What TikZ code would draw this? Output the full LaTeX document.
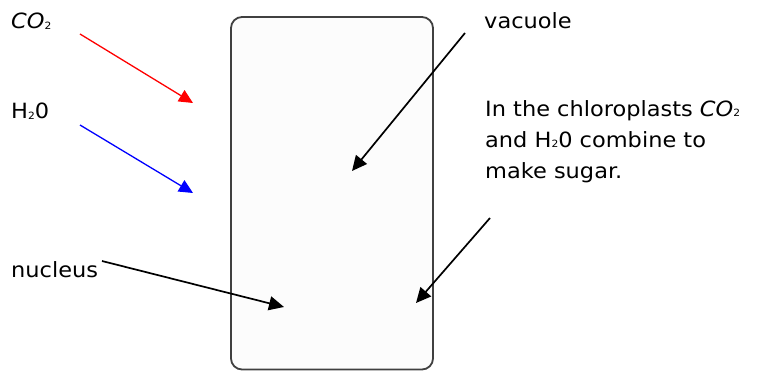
\documentclass[tikz,border=0pt]{standalone}
\usepackage{fontspec}
\setmainfont{DejaVu Sans}[FakeStretch=1.07]
\usetikzlibrary{arrows.meta}
\newcommand{\subtwo}{\raisebox{-0.5pt}{\fontsize{10}{10}\selectfont 2}}
\tikzset{
  lbl/.style={anchor=base west, inner sep=0pt, font=\fontsize{21}{31}\selectfont, text=black},
  cellbox/.style={draw=black!75, line width=1.8pt, fill=black!1, rounded corners=11pt},
  ptr/.style={line width=1.7pt, -{Triangle[length=15pt,width=14pt]}},
  colptr/.style={line width=1.3pt, -{Triangle[length=14pt,width=13pt]}},
}
\begin{document}
\begin{tikzpicture}[x=1pt,y=-1pt]
\useasboundingbox (0,0) rectangle (762,371);
% cell
\draw[cellbox] (231,17) rectangle (433,369.5);
% texts clipped at top
\begin{scope}
\clip (0,0) rectangle (762,28.5);
\node[lbl] (co2) at (11,29) {\textit{CO}\subtwo};
\node[lbl] (vac) at (484,29) {vacuole};
\end{scope}
\node[lbl] (h2o) at (11,119) {H\subtwo 0};
\node[lbl] (nuc) at (11,277) {nucleus};
\node[lbl, align=left, anchor=north west] (chl) at (485,100)
  {In the chloroplasts \textit{CO}\subtwo\\and H\subtwo 0 combine to\\make sugar.};
% connector anchors
\coordinate (redS) at (80,34);
\coordinate (redE) at (193,103);
\coordinate (bluS) at (80,125);
\coordinate (bluE) at (193,193);
\coordinate (vacS) at (465,33);
\coordinate (vacE) at (352,171);
\coordinate (nucS) at (102,261);
\coordinate (nucE) at (284,307);
\coordinate (chlS) at (490,218);
\coordinate (chlE) at (416,303);
\draw[colptr, red] (redS) -- (redE);
\draw[colptr, blue] (bluS) -- (bluE);
\draw[ptr] (vacS) -- (vacE);
\draw[ptr] (nucS) -- (nucE);
\draw[ptr] (chlS) -- (chlE);
\end{tikzpicture}
\end{document}
